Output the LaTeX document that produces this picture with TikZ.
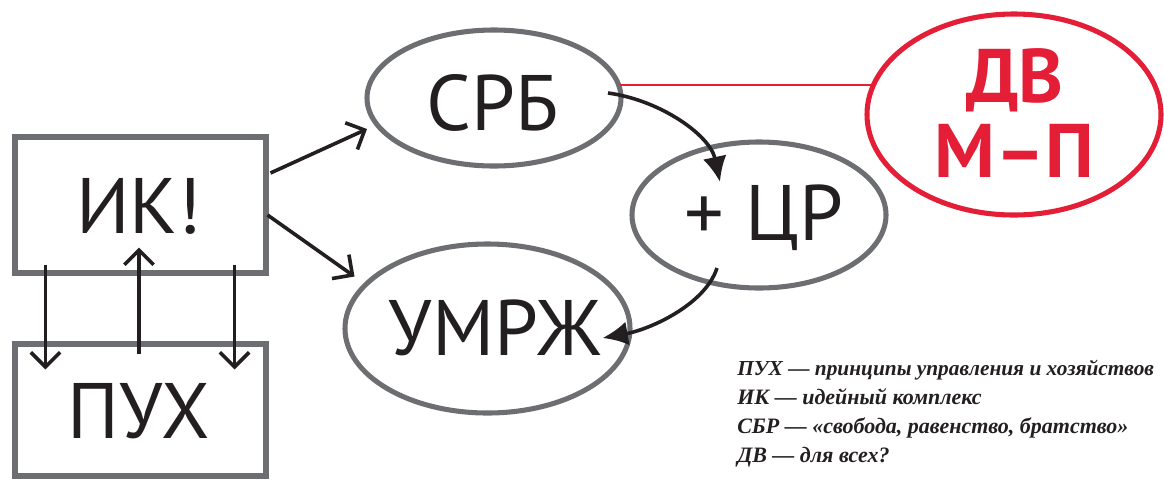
\documentclass[tikz,border=0pt]{standalone}
\usepackage{fontspec}
\setmainfont{PT Sans}
\newfontfamily\legfont{Liberation Serif}
\usetikzlibrary{shapes.geometric,arrows.meta}
\definecolor{bgray}{HTML}{6D6E71}
\definecolor{bred}{HTML}{E31E36}
\definecolor{bink}{HTML}{231F20}
\begin{document}
\begin{tikzpicture}[x=0.75pt,y=-0.75pt,
  box/.style={draw=bgray,line width=3.8pt,rectangle,inner sep=0pt},
  oval/.style={draw=bgray,line width=3.8pt,ellipse,inner sep=0pt},
  redoval/.style={draw=bred,line width=3.8pt,ellipse,inner sep=0pt},
  big/.style={font=\fontsize{59}{60}\selectfont,text=bink,anchor=base,inner sep=0pt},
  bigred/.style={font=\fontsize{57}{60}\selectfont\bfseries,text=bred,anchor=base,inner sep=0pt},
  leg/.style={font=\legfont\fontsize{16.5}{20}\selectfont\bfseries\itshape,text=bink,anchor=base west,inner sep=0pt},
  barb/.style={draw=bink,line width=2.7pt,-{Straight Barb[length=11pt,width=22pt,line width=2.7pt]}},
  curv/.style={draw=bink,line width=2.7pt,-{Latex[length=19pt,width=18pt]}},
]
\useasboundingbox (0,0) rectangle (1164,480);
\clip (0,0) rectangle (1164,480);

% boxes
\node[box,minimum width=251*0.75pt,minimum height=136*0.75pt] (ik) at (140.5,205) {};
\node[box,minimum width=251*0.75pt,minimum height=132*0.75pt] (puh) at (140.5,410) {};
% ellipses
\node[oval,minimum width=254*0.75pt,minimum height=136*0.75pt] (srb) at (494,98) {};
\node[oval,minimum width=254*0.75pt,minimum height=146*0.75pt] (cr) at (759,215) {};
\node[oval,minimum width=285*0.75pt,minimum height=169*0.75pt] (um) at (487.5,328.5) {};
\node[redoval,minimum width=294*0.75pt,minimum height=201*0.75pt] (dv) at (1014,114.5) {};

% red connector
\draw[bred,line width=2.2pt] ([shift={(126,-13)}]srb.center) -- ([shift={(-141,-29.5)}]dv.center);

% texts
\node[big] (ikt) at (139,233) {ИК!};
\node[big] (puht) at (139,438) {ПУХ};
\node[big] (srbt) at (493,130) {СРБ};
\node[big] (crt) at (764,240) {+ ЦР};
\node[big] (umt) at (495,355) {УМРЖ};
\node[bigred] (dvt) at (1015,102) {ДВ};
\node[bigred] (mpt) at (1014,177) {М–П};

% arrows between boxes
\draw[barb] ([shift={(33,-11)}]ik.south west) -- ([shift={(33,28)}]puh.north west);
\draw[barb] ([shift={(-1.5,13)}]puh.north) -- ([shift={(-1.5,-28)}]ik.south);
\draw[barb] ([shift={(-34,-11)}]ik.south east) -- ([shift={(-34,28)}]puh.north east);
% arrows to ellipses
\draw[barb] ([shift={(2,-32)}]ik.east) -- ([shift={(-127,31)}]srb.center);
\draw[barb] ([shift={(-1,10)}]ik.east) -- ([shift={(-133,-52)}]um.center);
% curved arrows
\draw[curv] ([shift={(114,-5)}]srb.center) .. controls ([shift={(166,2)}]srb.center) and ([shift={(-49,-80)}]cr.center) .. ([shift={(-39,-33)}]cr.center);
\draw[curv] ([shift={(-42,53)}]cr.center) .. controls ([shift={(-54,90)}]cr.center) and ([shift={(162,1)}]um.center) .. ([shift={(115,9.5)}]um.center);

% legend
\node[leg,font=\legfont\fontsize{16}{20}\selectfont\bfseries\itshape] (l1) at (737,375) {ПУХ — принципы управления и хозяйствов};
\node[leg] (l2) at (737,404) {ИК — идейный комплекс};
\node[leg] (l3) at (737,433) {СБР — «свобода, равенство, братство»};
\node[leg] (l4) at (737,462) {ДВ — для всех?};
\end{tikzpicture}
\end{document}
